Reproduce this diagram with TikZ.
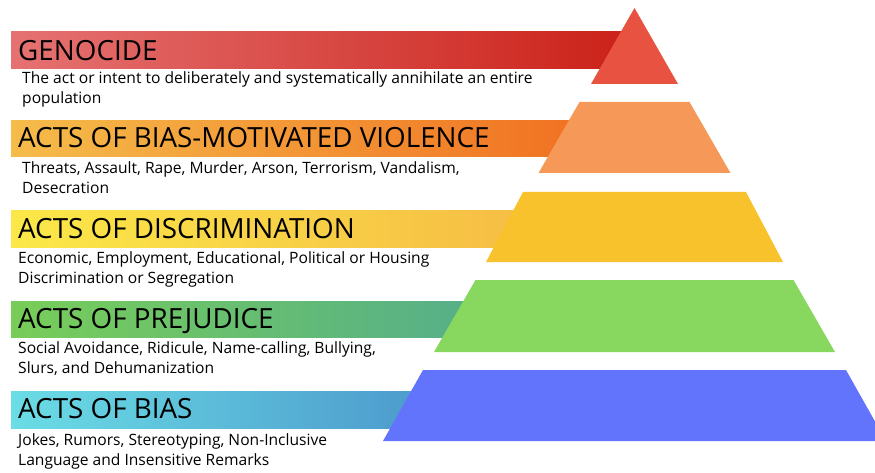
\documentclass[tikz,border=0pt]{standalone}
\usepackage{fontspec}
\setmainfont{Open Sans}

\definecolor{redA}{HTML}{E57272}
\definecolor{redB}{HTML}{CB2118}
\definecolor{orangeA}{HTML}{F5BC4A}
\definecolor{orangeB}{HTML}{F06A1E}
\definecolor{yellowA}{HTML}{FBE848}
\definecolor{yellowB}{HTML}{F5B444}
\definecolor{greenA}{HTML}{78CD58}
\definecolor{greenB}{HTML}{4AA59A}
\definecolor{blueA}{HTML}{6ADDE5}
\definecolor{blueB}{HTML}{3E78C0}
\definecolor{topred}{HTML}{E85240}
\definecolor{levorange}{HTML}{F59858}
\definecolor{levyellow}{HTML}{F8C22C}
\definecolor{levgreen}{HTML}{88D860}
\definecolor{levblue}{HTML}{6273FC}

\begin{document}
\begin{tikzpicture}[x=1pt, y=-1pt,
    heading/.style={anchor=base west, inner sep=0pt, font=\fontsize{27.8}{33}\selectfont},
    desc/.style={anchor=north west, inner sep=0pt, align=left, font=\fontsize{15.6}{20.5}\selectfont}]
        \useasboundingbox (0,0) rectangle (875,473);

        % gradient bars
        \shade[left color=redA, right color=redB] (11,32) rectangle (634,69);
        \shade[left color=orangeA, right color=orangeB] (11,121) rectangle (634,157);
        \shade[left color=yellowA, right color=yellowB] (11,211) rectangle (634,247);
        \shade[left color=greenA, right color=greenB] (11,301) rectangle (634,337);
        \shade[left color=blueA, right color=blueB] (11,391) rectangle (634,428);

        % pyramid
        \fill[topred] (634.5,8) -- (678,84) -- (591,84) -- cycle;
        \fill[levorange] (579.5,102) -- (689.5,102) -- (730.5,173) -- (538.5,173) -- cycle;
        \fill[levyellow] (523,192) -- (746,192) -- (783,262) -- (486,262) -- cycle;
        \fill[levgreen] (475.5,280) -- (793.5,280) -- (835,352) -- (434,352) -- cycle;
        \fill[levblue] (423,370) -- (846,370) -- (886,441) -- (383,441) -- cycle;

        % labels (desc nodes: top = first baseline - 14.35)
        \node[heading] (genocide) at (18,61) {GENOCIDE};
        \node[desc] (genocidetxt) at (22,68.6) {\strut The act or intent to deliberately and systematically annihilate an entire\\population};

        \node[heading] (violence) at (18,148) {ACTS OF BIAS-MOTIVATED VIOLENCE};
        \node[desc] (violencetxt) at (22,158.6) {\strut Threats, Assault, Rape, Murder, Arson, Terrorism, Vandalism,\\Desecration};

        \node[heading] (discrim) at (18,238) {ACTS OF DISCRIMINATION};
        \node[desc] (discrimtxt) at (18,248.6) {\strut Economic, Employment, Educational, Political or Housing\\Discrimination or Segregation};

        \node[heading] (prejudice) at (18,328) {ACTS OF PREJUDICE};
        \node[desc] (prejudicetxt) at (18,338.6) {\strut Social Avoidance, Ridicule, Name-calling, Bullying,\\Slurs, and Dehumanization};

        \node[heading] (bias) at (18,418) {ACTS OF BIAS};
        \node[desc] (biastxt) at (18,430.6) {\strut Jokes, Rumors, Stereotyping, Non-Inclusive\\Language and Insensitive Remarks};

    \end{tikzpicture}
\end{document}
